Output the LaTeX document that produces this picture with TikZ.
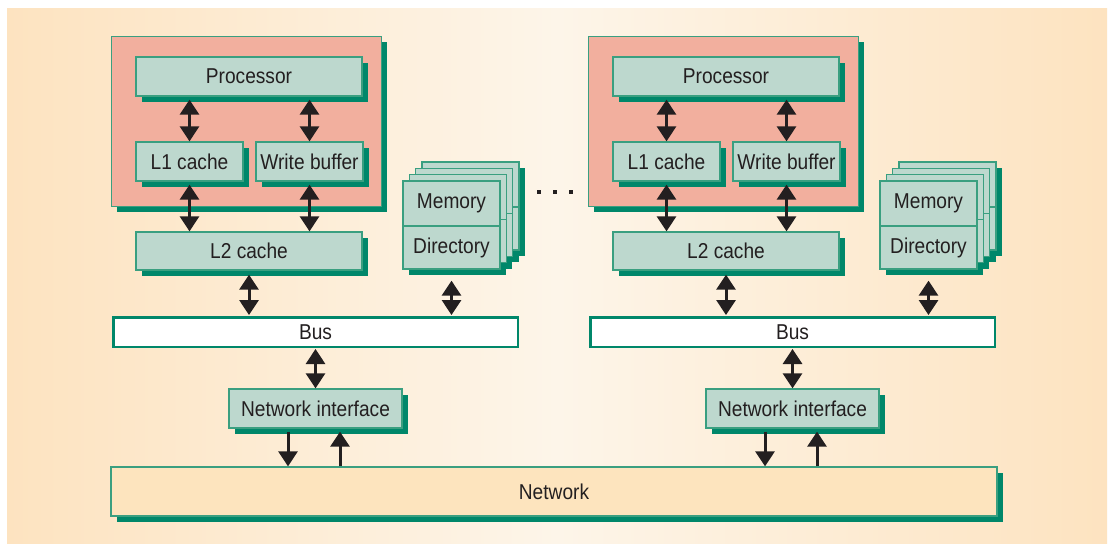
\documentclass[tikz,border=0pt]{standalone}
\usepackage{fontspec}
\setmainfont{Liberation Sans}
\usetikzlibrary{arrows.meta,calc,shadows}
\definecolor{bgedge}{HTML}{FDE3C0}
\definecolor{bgmid}{HTML}{FDF5E9}
\definecolor{pinkf}{HTML}{F2AF9E}
\definecolor{boxf}{HTML}{BDD8CE}
\definecolor{boxd}{HTML}{3A9F80}
\definecolor{shd}{HTML}{00876A}
\definecolor{netf}{HTML}{FDE4BE}
\definecolor{ink}{HTML}{231F20}
\newcommand{\cond}[1]{\scalebox{0.89}[1]{#1}}
\tikzset{
  sh/.style={drop shadow={shadow xshift=6pt,shadow yshift=-6pt,fill=shd,opacity=1}},
  txt/.style={font=\fontsize{21.5}{24}\selectfont, text=ink, inner sep=0pt},
  box/.style={txt, draw=boxd, line width=1.3pt, fill=boxf, sh},
  layer/.style={draw=boxd, line width=1.3pt, fill=boxf},
  pinkbox/.style={draw=boxd, line width=1pt, fill=pinkf, sh, inner sep=0pt},
  busbox/.style={txt, draw=shd, line width=2.5pt, fill=white},
  netbox/.style={txt, draw=boxd, line width=1.3pt, fill=netf, sh},
  dar/.style={draw=ink, line width=3pt, {Triangle[width=19pt,length=15pt]}-{Triangle[width=19pt,length=15pt]}},
  sar/.style={draw=ink, line width=3pt, -{Triangle[width=19pt,length=15pt]}},
}
\begin{document}
\begin{tikzpicture}[x=1pt,y=-1pt]
\useasboundingbox (0,0) rectangle (1113,544);
\fill[white] (0,0) rectangle (1113,544);
\shade[left color=bgedge, right color=bgedge, middle color=bgmid] (7,8) rectangle (1107,543);

\node[netbox, minimum width=886, minimum height=49] (net) at (554,491.5) {\cond{Network}};

\foreach \p/\dx in {a/0,b/477}{
\begin{scope}[xshift=\dx pt]
  \node[pinkbox, minimum width=270, minimum height=170] (cpu\p) at (246,121) {};
  \node[box, minimum width=226, minimum height=39] (proc\p) at (249,76.5) {\cond{Processor}};
  \node[box, minimum width=107, minimum height=39] (lone\p) at (189.5,161.5) {\cond{L1 cache}};
  \node[box, minimum width=107, minimum height=39] (wb\p) at (309.5,161.5) {\cond{Write buffer}};
  \node[box, minimum width=226, minimum height=38] (ltwo\p) at (249,251) {\cond{L2 cache}};
  % memory stack: shadows first, then layers back to front
  \foreach \k in {3,2,1,0}{
    \fill[shd] ({403+6.3*\k+6},{181-6.3*\k+6}) rectangle ({500+6.3*\k+6},{269-6.3*\k+6});
  }
  \foreach \k in {3,2,1}{
    \draw[layer] ({403+6.3*\k},{181-6.3*\k}) rectangle ({500+6.3*\k},{269-6.3*\k});
    \draw[boxd, line width=1.3pt] ({403+6.3*\k},{226-6.3*\k}) -- ({500+6.3*\k},{226-6.3*\k});
  }
  \node[txt, draw=boxd, line width=1.3pt, fill=boxf, minimum width=97, minimum height=45] (mem\p) at (451.5,203.5) {\cond{Memory}};
  \node[txt, draw=boxd, line width=1.3pt, fill=boxf, minimum width=97, minimum height=43] (dir\p) at (451.5,247.5) {\cond{Directory}};
  \node[busbox, minimum width=404.5, minimum height=29.5] (bus\p) at (315.5,332) {\cond{Bus}};
  \node[box, minimum width=173, minimum height=39] (ni\p) at (315.5,408.5) {\cond{Network interface}};

  \draw[dar] ([yshift=-3pt]lone\p.north |- proc\p.south) -- (lone\p.north);
  \draw[dar] ([yshift=-3pt]wb\p.north |- proc\p.south) -- (wb\p.north);
  \draw[dar] ([yshift=-3pt]lone\p.south) -- (lone\p.south |- ltwo\p.north);
  \draw[dar] ([yshift=-3pt]wb\p.south) -- (wb\p.south |- ltwo\p.north);
  \draw[dar] ([yshift=-4pt]ltwo\p.south) -- ([yshift=1pt]ltwo\p.south |- bus\p.north);
  \draw[dar] ([yshift=-11pt]dir\p.south) -- ([yshift=1pt]dir\p.south |- bus\p.north);
  \draw[dar] ([yshift=-1pt]ni\p.north |- bus\p.south) -- (ni\p.north);
  \draw[sar] ([xshift=-27.5pt,yshift=-3pt]ni\p.south) -- ([xshift=-27.5pt]ni\p.south |- net.north);
  \draw[sar] ([xshift=24.5pt]ni\p.south |- net.north) -- ([xshift=24.5pt,yshift=-3pt]ni\p.south);
\end{scope}
}
\foreach \i in {0,1,2}{
  \fill[ink] ({537+16*\i},190) rectangle ++(4,4);
}
\end{tikzpicture}
\end{document}
